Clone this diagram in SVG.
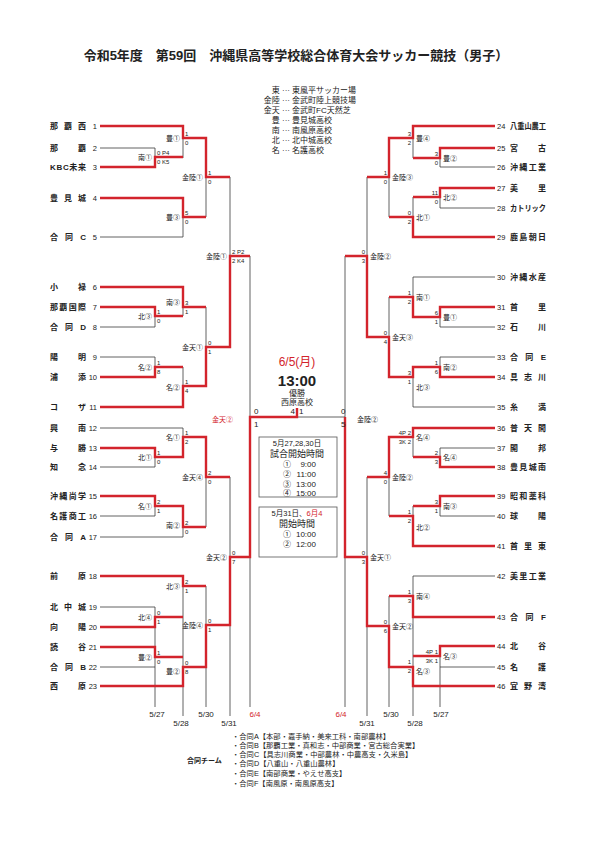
<svg xmlns="http://www.w3.org/2000/svg" width="595" height="841" viewBox="0 0 595 841">
<style>
text{font-family:'Liberation Sans','Noto Sans CJK JP',sans-serif;fill:#222}
.t{fill:none;stroke:#3a3a3a;stroke-width:.8}
.r{fill:none;stroke:#d3242c;stroke-width:2.4;stroke-linejoin:miter}
.nm{font-size:8px;font-weight:bold}
.no{font-size:7.5px}
.noL{font-size:7.5px;text-anchor:end}
.sc{font-size:6px}
.scR{font-size:6px;text-anchor:end}
.vL{font-size:7px;text-anchor:end}
.vR{font-size:7px}
.dt{font-size:8px;text-anchor:middle}
.red{fill:#d3242c}
.lg{font-size:8px}
.lgA{font-size:8px;text-anchor:end}
.bx{fill:none;stroke:#555;stroke-width:.8}
.c{text-anchor:middle}
.nt{font-size:7.3px}
</style>
<text x="296" y="60" class="c" style="font-size:13px;font-weight:bold">令和5年度　第59回　沖縄県高等学校総合体育大会サッカー競技（男子）</text>
<g id="legend">
<text class="lgA" x="290" y="93">東 ···</text><text class="lg" x="292" y="93">東風平サッカー場</text>
<text class="lgA" x="290" y="103">金陸 ···</text><text class="lg" x="292" y="103">金武町陸上競技場</text>
<text class="lgA" x="290" y="113">金天 ···</text><text class="lg" x="292" y="113">金武町FC天然芝</text>
<text class="lgA" x="290" y="123">豊 ···</text><text class="lg" x="292" y="123">豊見城高校</text>
<text class="lgA" x="290" y="133">南 ···</text><text class="lg" x="292" y="133">南風原高校</text>
<text class="lgA" x="290" y="143">北 ···</text><text class="lg" x="292" y="143">北中城高校</text>
<text class="lgA" x="290" y="153">名 ···</text><text class="lg" x="292" y="153">名護高校</text>
</g>
<g id="connectors">
<path class="t" d="M100 126H183M100 148H155M100 167H155M100 198H183M100 237H183M100 287H183M100 307H155M100 327H155M100 357H155M100 377H155M100 407H183M100 428H183M100 448H155M100 467H155M100 496H155M100 516H155M100 537H183M100 576H183M100 607H155M100 627H155M100 647H155M100 667H155M100 686H183"/>
<path class="t" d="M155 148V167M155 307V327M155 357V377M155 448V467M155 496V516M155 607V707M155 157H183M155 316H183M155 367H183M155 457H183M155 506H183M155 617H183M155 657H183"/>
<path class="t" d="M183 126V158M183 198V237M183 287V316M183 367V407M183 428V457M183 506V537M183 576V716M183 138H206M183 217H206M183 307H206M183 386H206M183 437H206M183 527H206M183 586H206M183 667H206"/>
<path class="t" d="M206 138V217M206 307V386M206 437V527M206 586V707M206 177H230M206 347H230M206 477H230M206 625H230M230 177V347M230 477V716M230 256H250M230 557H250M250 256V707M250 417H345"/>
<path class="t" d="M495 126H413M495 148H440M495 167H440M495 188H440M495 208H440M495 237H413M495 277H413M495 307H440M495 327H440M495 357H440M495 377H440M495 407H413M495 428H413M495 448H440M495 467H440M495 496H440M495 516H440M495 546H413M495 576H413M495 617H413M495 646H440M495 667H440M495 686H413"/>
<path class="t" d="M440 148V167M440 188V208M440 307V327M440 357V377M440 448V467M440 496V516M440 646V707M440 158H413M440 197H413M440 317H413M440 367H413M440 457H413M440 506H413M440 656H413"/>
<path class="t" d="M413 126V158M413 197V237M413 277V317M413 367V407M413 428V457M413 506V546M413 576V716M413 138H389M413 217H389M413 297H389M413 377H389M413 437H389M413 516H389M413 596H389M413 667H389"/>
<path class="t" d="M389 138V217M389 297V377M389 437V516M389 596V707M389 177H367M389 337H367M389 477H367M389 626H367M367 177V337M367 477V716M367 256H345M367 557H345M345 256V707"/>
<polyline class="r" points="100,126 183,126 183,138 206,138 206,177 230,177"/>
<polyline class="r" points="100,167 155,167 155,157 183,157"/>
<polyline class="r" points="100,198 183,198 183,217 206,217"/>
<polyline class="r" points="100,287 183,287 183,307 206,307"/>
<polyline class="r" points="100,307 155,307 155,316 183,316"/>
<polyline class="r" points="100,377 155,377 155,367 183,367"/>
<polyline class="r" points="100,407 183,407 183,386 206,386 206,347 230,347 230,256 250,256"/>
<polyline class="r" points="100,448 155,448 155,457 183,457 183,437 206,437 206,477 230,477"/>
<polyline class="r" points="100,496 155,496 155,506 183,506 183,527 206,527"/>
<polyline class="r" points="100,576 183,576 183,586 206,586"/>
<polyline class="r" points="100,627 155,627 155,617 183,617"/>
<polyline class="r" points="100,647 155,647 155,657 183,657"/>
<polyline class="r" points="100,686 183,686 183,667 206,667 206,625 230,625 230,557 250,557 250,417 297,417 297,408"/>
<polyline class="r" points="495,126 413,126 413,138 389,138 389,177 367,177"/>
<polyline class="r" points="495,148 440,148 440,158 413,158"/>
<polyline class="r" points="495,188 440,188 440,197 413,197"/>
<polyline class="r" points="495,237 413,237 413,217 389,217"/>
<polyline class="r" points="495,307 440,307 440,317 413,317 413,297 389,297"/>
<polyline class="r" points="495,377 440,377 440,367 413,367 413,377 389,377 389,337 367,337 367,256 345,256"/>
<polyline class="r" points="495,428 413,428 413,437 389,437 389,477 367,477"/>
<polyline class="r" points="495,467 440,467 440,457 413,457"/>
<polyline class="r" points="495,496 440,496 440,506 413,506"/>
<polyline class="r" points="495,546 413,546 413,516 389,516"/>
<polyline class="r" points="495,617 413,617 413,596 389,596"/>
<polyline class="r" points="495,646 440,646 440,656 413,656"/>
<polyline class="r" points="495,686 413,686 413,667 389,667 389,626 367,626 367,557 345,557 345,417"/>
</g>
<g id="teams-left">
<g id="t1"><text class="nm" x="50" y="129" textLength="36" lengthAdjust="spacing">那覇西</text><text class="noL" x="97" y="129">1</text></g>
<g id="t2"><text class="nm" x="50" y="151" textLength="36" lengthAdjust="spacing">那覇</text><text class="noL" x="97" y="151">2</text></g>
<g id="t3"><text class="nm" x="50" y="170" textLength="36" lengthAdjust="spacing">KBC未来</text><text class="noL" x="97" y="170">3</text></g>
<g id="t4"><text class="nm" x="50" y="201" textLength="36" lengthAdjust="spacing">豊見城</text><text class="noL" x="97" y="201">4</text></g>
<g id="t5"><text class="nm" x="50" y="240" textLength="36" lengthAdjust="spacing">合同C</text><text class="noL" x="97" y="240">5</text></g>
<g id="t6"><text class="nm" x="50" y="290" textLength="36" lengthAdjust="spacing">小禄</text><text class="noL" x="97" y="290">6</text></g>
<g id="t7"><text class="nm" x="50" y="310" textLength="36" lengthAdjust="spacing">那覇国際</text><text class="noL" x="97" y="310">7</text></g>
<g id="t8"><text class="nm" x="50" y="330" textLength="36" lengthAdjust="spacing">合同D</text><text class="noL" x="97" y="330">8</text></g>
<g id="t9"><text class="nm" x="50" y="360" textLength="36" lengthAdjust="spacing">陽明</text><text class="noL" x="97" y="360">9</text></g>
<g id="t10"><text class="nm" x="50" y="380" textLength="36" lengthAdjust="spacing">浦添</text><text class="noL" x="97" y="380">10</text></g>
<g id="t11"><text class="nm" x="50" y="410" textLength="36" lengthAdjust="spacing">コザ</text><text class="noL" x="97" y="410">11</text></g>
<g id="t12"><text class="nm" x="50" y="431" textLength="36" lengthAdjust="spacing">興南</text><text class="noL" x="97" y="431">12</text></g>
<g id="t13"><text class="nm" x="50" y="451" textLength="36" lengthAdjust="spacing">与勝</text><text class="noL" x="97" y="451">13</text></g>
<g id="t14"><text class="nm" x="50" y="470" textLength="36" lengthAdjust="spacing">知念</text><text class="noL" x="97" y="470">14</text></g>
<g id="t15"><text class="nm" x="50" y="499" textLength="36" lengthAdjust="spacing">沖縄尚学</text><text class="noL" x="97" y="499">15</text></g>
<g id="t16"><text class="nm" x="50" y="519" textLength="36" lengthAdjust="spacing">名護商工</text><text class="noL" x="97" y="519">16</text></g>
<g id="t17"><text class="nm" x="50" y="540" textLength="36" lengthAdjust="spacing">合同A</text><text class="noL" x="97" y="540">17</text></g>
<g id="t18"><text class="nm" x="50" y="579" textLength="36" lengthAdjust="spacing">前原</text><text class="noL" x="97" y="579">18</text></g>
<g id="t19"><text class="nm" x="50" y="610" textLength="36" lengthAdjust="spacing">北中城</text><text class="noL" x="97" y="610">19</text></g>
<g id="t20"><text class="nm" x="50" y="630" textLength="36" lengthAdjust="spacing">向陽</text><text class="noL" x="97" y="630">20</text></g>
<g id="t21"><text class="nm" x="50" y="650" textLength="36" lengthAdjust="spacing">読谷</text><text class="noL" x="97" y="650">21</text></g>
<g id="t22"><text class="nm" x="50" y="670" textLength="36" lengthAdjust="spacing">合同B</text><text class="noL" x="97" y="670">22</text></g>
<g id="t23"><text class="nm" x="50" y="689" textLength="36" lengthAdjust="spacing">西原</text><text class="noL" x="97" y="689">23</text></g>
</g>
<g id="teams-right">
<g id="t24"><text class="no" x="497" y="129">24</text><text class="nm" x="510" y="129" textLength="36" lengthAdjust="spacingAndGlyphs">八重山農工</text></g>
<g id="t25"><text class="no" x="497" y="151">25</text><text class="nm" x="510" y="151" textLength="36" lengthAdjust="spacing">宮古</text></g>
<g id="t26"><text class="no" x="497" y="170">26</text><text class="nm" x="510" y="170" textLength="36" lengthAdjust="spacing">沖縄工業</text></g>
<g id="t27"><text class="no" x="497" y="191">27</text><text class="nm" x="510" y="191" textLength="36" lengthAdjust="spacing">美里</text></g>
<g id="t28"><text class="no" x="497" y="211">28</text><text class="nm" x="510" y="211" textLength="36" lengthAdjust="spacingAndGlyphs">カトリック</text></g>
<g id="t29"><text class="no" x="497" y="240">29</text><text class="nm" x="510" y="240" textLength="36" lengthAdjust="spacing">鹿島朝日</text></g>
<g id="t30"><text class="no" x="497" y="280">30</text><text class="nm" x="510" y="280" textLength="36" lengthAdjust="spacing">沖縄水産</text></g>
<g id="t31"><text class="no" x="497" y="310">31</text><text class="nm" x="510" y="310" textLength="36" lengthAdjust="spacing">首里</text></g>
<g id="t32"><text class="no" x="497" y="330">32</text><text class="nm" x="510" y="330" textLength="36" lengthAdjust="spacing">石川</text></g>
<g id="t33"><text class="no" x="497" y="360">33</text><text class="nm" x="510" y="360" textLength="36" lengthAdjust="spacing">合同E</text></g>
<g id="t34"><text class="no" x="497" y="380">34</text><text class="nm" x="510" y="380" textLength="36" lengthAdjust="spacing">具志川</text></g>
<g id="t35"><text class="no" x="497" y="410">35</text><text class="nm" x="510" y="410" textLength="36" lengthAdjust="spacing">糸満</text></g>
<g id="t36"><text class="no" x="497" y="431">36</text><text class="nm" x="510" y="431" textLength="36" lengthAdjust="spacing">普天間</text></g>
<g id="t37"><text class="no" x="497" y="451">37</text><text class="nm" x="510" y="451" textLength="36" lengthAdjust="spacing">開邦</text></g>
<g id="t38"><text class="no" x="497" y="470">38</text><text class="nm" x="510" y="470" textLength="36" lengthAdjust="spacing">豊見城南</text></g>
<g id="t39"><text class="no" x="497" y="499">39</text><text class="nm" x="510" y="499" textLength="36" lengthAdjust="spacing">昭和薬科</text></g>
<g id="t40"><text class="no" x="497" y="519">40</text><text class="nm" x="510" y="519" textLength="36" lengthAdjust="spacing">球陽</text></g>
<g id="t41"><text class="no" x="497" y="549">41</text><text class="nm" x="510" y="549" textLength="36" lengthAdjust="spacing">首里東</text></g>
<g id="t42"><text class="no" x="497" y="579">42</text><text class="nm" x="510" y="579" textLength="36" lengthAdjust="spacing">美里工業</text></g>
<g id="t43"><text class="no" x="497" y="620">43</text><text class="nm" x="510" y="620" textLength="36" lengthAdjust="spacing">合同F</text></g>
<g id="t44"><text class="no" x="497" y="649">44</text><text class="nm" x="510" y="649" textLength="36" lengthAdjust="spacing">北谷</text></g>
<g id="t45"><text class="no" x="497" y="670">45</text><text class="nm" x="510" y="670" textLength="36" lengthAdjust="spacing">名護</text></g>
<g id="t46"><text class="no" x="497" y="689">46</text><text class="nm" x="510" y="689" textLength="36" lengthAdjust="spacing">宜野湾</text></g>
</g>
<g id="match-labels">
<text class="vL" x="152" y="160">南①</text><text class="sc" x="157" y="155">0 P4</text><text class="sc" x="157" y="164">0 K5</text>
<text class="vL" x="180" y="141">豊①</text><text class="sc" x="185" y="136">1</text><text class="sc" x="185" y="145">0</text>
<text class="vL" x="180" y="220">豊③</text><text class="sc" x="185" y="215">5</text><text class="sc" x="185" y="224">0</text>
<text class="vL" x="203" y="180">金陸①</text><text class="sc" x="208" y="175">1</text><text class="sc" x="208" y="184">0</text>
<text class="vL" x="227" y="259">金陸①</text><text class="sc" x="232" y="254">2 P2</text><text class="sc" x="232" y="263">2 K4</text>
<text class="vL" x="152" y="319">北③</text><text class="sc" x="157" y="314">1</text><text class="sc" x="157" y="323">0</text>
<text class="vL" x="180" y="305">南③</text><text class="sc" x="185" y="305">3</text><text class="sc" x="185" y="314">1</text>
<text class="vL" x="152" y="370">名②</text><text class="sc" x="157" y="365">1</text><text class="sc" x="157" y="374">8</text>
<text class="vL" x="180" y="390">名②</text><text class="sc" x="185" y="384">1</text><text class="sc" x="185" y="393">4</text>
<text class="vL" x="203" y="350">金天①</text><text class="sc" x="208" y="345">0</text><text class="sc" x="208" y="354">1</text>
<text class="vL" x="152" y="460">北①</text><text class="sc" x="157" y="455">1</text><text class="sc" x="157" y="464">0</text>
<text class="vL" x="180" y="440">名①</text><text class="sc" x="185" y="435">1</text><text class="sc" x="185" y="444">2</text>
<text class="vL" x="152" y="509">名①</text><text class="sc" x="157" y="504">2</text><text class="sc" x="157" y="513">1</text>
<text class="vL" x="180" y="528">南②</text><text class="sc" x="185" y="525">2</text><text class="sc" x="185" y="534">0</text>
<text class="vL" x="203" y="480">金天④</text><text class="sc" x="208" y="475">2</text><text class="sc" x="208" y="484">0</text>
<text class="vL" x="227" y="560">金天②</text><text class="sc" x="232" y="555">0</text><text class="sc" x="232" y="564">7</text>
<text class="vL" x="152" y="620">北④</text><text class="sc" x="157" y="615">0</text><text class="sc" x="157" y="624">1</text>
<text class="vL" x="180" y="589">北③</text><text class="sc" x="185" y="584">2</text><text class="sc" x="185" y="593">1</text>
<text class="vL" x="152" y="660">豊②</text><text class="sc" x="157" y="655">1</text><text class="sc" x="157" y="664">0</text>
<text class="vL" x="180" y="674">豊②</text><text class="sc" x="185" y="665">0</text><text class="sc" x="185" y="674">8</text>
<text class="vL" x="203" y="628">金陸④</text><text class="sc" x="208" y="623">0</text><text class="sc" x="208" y="632">1</text>
<text class="vR" x="443" y="161">豊②</text><text class="scR" x="438" y="156">3</text><text class="scR" x="438" y="165">0</text>
<text class="vR" x="416" y="141">豊④</text><text class="scR" x="411" y="136">3</text><text class="scR" x="411" y="145">2</text>
<text class="vR" x="443" y="200">北②</text><text class="scR" x="438" y="195">11</text><text class="scR" x="438" y="204">0</text>
<text class="vR" x="416" y="220">北①</text><text class="scR" x="411" y="215">0</text><text class="scR" x="411" y="224">2</text>
<text class="vR" x="392" y="180">金陸③</text><text class="scR" x="387" y="175">1</text><text class="scR" x="387" y="184">0</text>
<text class="vR" x="370" y="259">金陸②</text><text class="scR" x="365" y="254">0</text><text class="scR" x="365" y="263">3</text>
<text class="vR" x="443" y="320">豊①</text><text class="scR" x="438" y="315">6</text><text class="scR" x="438" y="324">1</text>
<text class="vR" x="416" y="300">南①</text><text class="scR" x="411" y="295">1</text><text class="scR" x="411" y="304">2</text>
<text class="vR" x="443" y="370">南②</text><text class="scR" x="438" y="365">1</text><text class="scR" x="438" y="374">6</text>
<text class="vR" x="416" y="390">北③</text><text class="scR" x="411" y="375">3</text><text class="scR" x="411" y="384">1</text>
<text class="vR" x="392" y="340">金天③</text><text class="scR" x="387" y="335">0</text><text class="scR" x="387" y="344">4</text>
<text class="vR" x="443" y="460">名④</text><text class="scR" x="438" y="455">2</text><text class="scR" x="438" y="464">3</text>
<text class="vR" x="416" y="440">名④</text><text class="scR" x="411" y="435">4P 2</text><text class="scR" x="411" y="444">3K 2</text>
<text class="vR" x="443" y="509">南③</text><text class="scR" x="438" y="504">3</text><text class="scR" x="438" y="513">1</text>
<text class="vR" x="416" y="530">北②</text><text class="scR" x="411" y="514">1</text><text class="scR" x="411" y="523">2</text>
<text class="vR" x="392" y="480">金陸②</text><text class="scR" x="387" y="475">4</text><text class="scR" x="387" y="484">0</text>
<text class="vR" x="370" y="560">金天①</text><text class="scR" x="365" y="555">0</text><text class="scR" x="365" y="564">3</text>
<text class="vR" x="416" y="599">南④</text><text class="scR" x="411" y="594">1</text><text class="scR" x="411" y="603">3</text>
<text class="vR" x="443" y="659">名③</text><text class="scR" x="438" y="654">4P 1</text><text class="scR" x="438" y="663">3K 1</text>
<text class="vR" x="416" y="674">名③</text><text class="scR" x="411" y="664">1</text><text class="scR" x="411" y="673">2</text>
<text class="vR" x="392" y="629">金天②</text><text class="scR" x="387" y="624">0</text><text class="scR" x="387" y="633">6</text>
<text class="vL red" x="233" y="422">金天②</text>
<text class="vR" x="357" y="422">金陸②</text>
<text x="254" y="414" style="font-size:8px">0</text><text x="254" y="427" style="font-size:8px">1</text>
<text x="341" y="414" style="font-size:8px">0</text><text x="341" y="427" style="font-size:8px">5</text>
<text x="295" y="414" style="font-size:8px;text-anchor:end">4</text><text x="299" y="414" style="font-size:8px">1</text>
</g>
<g id="final">
<text x="297" y="366" class="c red" style="font-size:12px">6/5(月)</text>
<text x="297" y="386" class="c" style="font-size:15px;font-weight:bold">13:00</text>
<text x="297" y="396" class="c" style="font-size:8px">優勝</text>
<text x="297" y="405" class="c" style="font-size:8px">西原高校</text>
</g>
<g id="schedule1">
<rect class="bx" x="259" y="437" width="78" height="60"/>
<text x="297" y="446" class="c" style="font-size:7.5px">5月27,28,30日</text>
<text x="297" y="457" class="c" style="font-size:9px">試合開始時間</text>
<text x="283" y="467" style="font-size:8px">①</text><text x="316" y="467" style="font-size:8px;text-anchor:end">9:00</text>
<text x="283" y="477" style="font-size:8px">②</text><text x="316" y="477" style="font-size:8px;text-anchor:end">11:00</text>
<text x="283" y="487" style="font-size:8px">③</text><text x="316" y="487" style="font-size:8px;text-anchor:end">13:00</text>
<text x="283" y="496" style="font-size:8px">④</text><text x="316" y="496" style="font-size:8px;text-anchor:end">15:00</text>
</g>
<g id="schedule2">
<rect class="bx" x="259" y="507" width="78" height="50"/>
<text x="297" y="516" class="c" style="font-size:7.5px">5月31日、<tspan class="red">6月4</tspan></text>
<text x="297" y="527" class="c" style="font-size:9px">開始時間</text>
<text x="283" y="537" style="font-size:8px">①</text><text x="316" y="537" style="font-size:8px;text-anchor:end">10:00</text>
<text x="283" y="547" style="font-size:8px">②</text><text x="316" y="547" style="font-size:8px;text-anchor:end">12:00</text>
</g>
<g id="dates">
<text class="dt" x="157" y="717">5/27</text><text class="dt" x="181" y="726">5/28</text><text class="dt" x="206" y="717">5/30</text><text class="dt" x="229" y="726">5/31</text><text class="dt red" x="255" y="717">6/4</text>
<text class="dt red" x="341" y="717">6/4</text><text class="dt" x="367" y="726">5/31</text><text class="dt" x="391" y="717">5/30</text><text class="dt" x="415" y="726">5/28</text><text class="dt" x="441" y="717">5/27</text>
</g>
<g id="notes">
<text x="187" y="763" style="font-size:7px;font-weight:bold">合同チーム</text>
<text class="nt" x="232" y="739">・合同A【本部・嘉手納・美来工科・南部農林】</text>
<text class="nt" x="232" y="748">・合同B【那覇工業・真和志・中部商業・宮古総合実業】</text>
<text class="nt" x="232" y="757">・合同C【具志川商業・中部農林・中農高支・久米島】</text>
<text class="nt" x="232" y="766">・合同D【八重山・八重山農林】</text>
<text class="nt" x="232" y="776">・合同E【南部商業・やえせ高支】</text>
<text class="nt" x="232" y="786">・合同F【南風原・南風原高支】</text>
</g>
</svg>
